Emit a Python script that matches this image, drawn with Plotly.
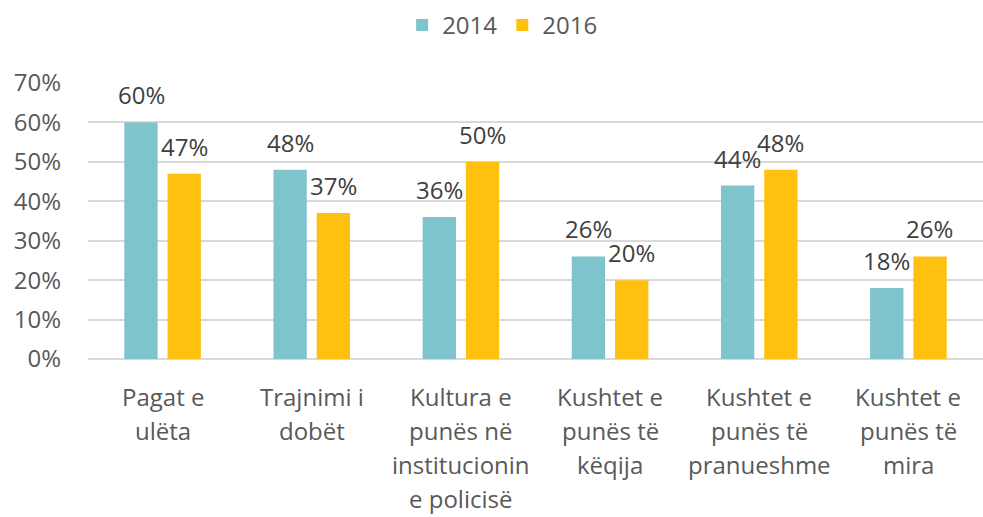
import plotly.graph_objects as go

category_lines = [
    ["Pagat e", "ulëta"],
    ["Trajnimi i", "dobët"],
    ["Kultura e", "punës në", "institucionin", "e policisë"],
    ["Kushtet e", "punës të", "këqija"],
    ["Kushtet e", "punës të", "pranueshme"],
    ["Kushtet e", "punës të", "mira"],
]
categories = [" ".join(c) for c in category_lines]
values_2014 = [60, 48, 36, 26, 44, 18]
values_2016 = [47, 37, 50, 20, 48, 26]
y_ticks = [0, 10, 20, 30, 40, 50, 60, 70]
y_tick_labels = [f"{v}%" for v in y_ticks]

FONT = "Open Sans"
LABEL_COLOR = "#404040"
AXIS_COLOR = "#595959"

fig = go.Figure()
fig.add_trace(go.Bar(name="2014", x=categories, y=values_2014,
                     marker=dict(color="#7FC3CD", line=dict(width=0))))
fig.add_trace(go.Bar(name="2016", x=categories, y=values_2016,
                     marker=dict(color="#FFC010", line=dict(width=0))))

annotations = []
# data labels
for vals, shift in ((values_2014, -21.5), (values_2016, 21.5)):
    for cat, v in zip(categories, vals):
        annotations.append(dict(x=cat, y=v, xref="x", yref="y", text=f"{v}%",
                                showarrow=False, xshift=shift, yshift=9,
                                yanchor="bottom", xanchor="center",
                                font=dict(family=FONT, size=24, color=LABEL_COLOR)))
# category labels (multi-line with wider line spacing)
for cat, lines in zip(categories, category_lines):
    for i, line in enumerate(lines):
        annotations.append(dict(x=cat, y=0, xref="x", yref="y", text=line,
                                showarrow=False, yshift=-(37 + 34.3 * i),
                                yanchor="middle", xanchor="center", borderpad=0,
                                font=dict(family=FONT, size=24, color=AXIS_COLOR)))

fig.update_layout(
    width=983, height=517,
    margin=dict(l=88, r=0, t=83, b=158, autoexpand=False),
    paper_bgcolor="white", plot_bgcolor="white",
    barmode="group", bargap=0.42, bargroupgap=0.23,
    font=dict(family=FONT, size=24, color=AXIS_COLOR),
    showlegend=True,
    legend=dict(orientation="h", x=0.351, xanchor="left", y=1.29, yanchor="top",
                font=dict(family=FONT, size=24, color=AXIS_COLOR),
                traceorder="normal"),
    annotations=annotations,
)
fig.update_yaxes(range=[0, 70], tickvals=y_ticks, ticktext=y_tick_labels,
                 showgrid=True, gridcolor="#D9D9D9", gridwidth=1.5,
                 zeroline=True, zerolinecolor="#D9D9D9", zerolinewidth=1.5,
                 showline=False, ticklabelstandoff=26,
                 tickfont=dict(family=FONT, size=24, color=AXIS_COLOR))
fig.update_xaxes(showline=False, ticks="", showticklabels=False)

fig.write_html("out.html", config={"displayModeBar": False},
               post_script="document.body.style.margin='0';document.body.style.overflow='hidden';")
